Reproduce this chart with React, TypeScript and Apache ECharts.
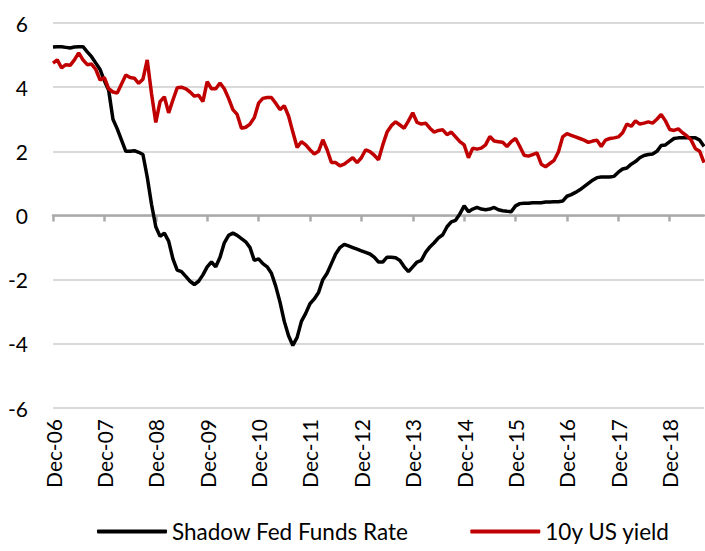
import React, { useEffect, useRef } from "react";
import * as echarts from "echarts";

const MONTHS = ["Jan", "Feb", "Mar", "Apr", "May", "Jun", "Jul", "Aug", "Sep", "Oct", "Nov", "Dec"];
// Monthly categories from Dec-06 to Aug-19
const START_YEAR = 2006;
const START_MONTH = 11; // December
const N_MONTHS = 153;
const categories: string[] = [];
for (let i = 0; i < N_MONTHS; i++) {
  const m = (START_MONTH + i) % 12;
  const y = START_YEAR + Math.floor((START_MONTH + i) / 12);
  categories.push(`${MONTHS[m]}-${String(y % 100).padStart(2, "0")}`);
}

const seriesNames = ["Shadow Fed Funds Rate", "10y US yield"];

const shadowFedFunds = [
  5.25, 5.26, 5.26, 5.24, 5.22, 5.25, 5.26, 5.26, 5.1, 4.95, 4.75, 4.55,
  4.2, 3.9, 3.0, 2.7, 2.35, 2.0, 2.0, 2.02, 1.97, 1.9, 1.2, 0.35,
  -0.35, -0.65, -0.55, -0.8, -1.35, -1.7, -1.75, -1.9, -2.05, -2.15, -2.05, -1.85,
  -1.6, -1.45, -1.6, -1.3, -0.85, -0.62, -0.55, -0.62, -0.72, -0.82, -1.0, -1.4,
  -1.35, -1.5, -1.6, -1.8, -2.2, -2.7, -3.3, -3.75, -4.05, -3.8, -3.3, -3.05,
  -2.75, -2.6, -2.4, -2.0, -1.8, -1.5, -1.2, -1.0, -0.9, -0.95, -1.0, -1.05,
  -1.1, -1.15, -1.2, -1.3, -1.45, -1.45, -1.3, -1.3, -1.32, -1.4, -1.6, -1.75,
  -1.6, -1.45, -1.4, -1.15, -0.98, -0.85, -0.7, -0.6, -0.35, -0.2, -0.15, 0.05,
  0.3, 0.12, 0.2, 0.25, 0.2, 0.18, 0.2, 0.25, 0.18, 0.15, 0.13, 0.12,
  0.3, 0.37, 0.38, 0.38, 0.4, 0.4, 0.4, 0.42, 0.42, 0.43, 0.43, 0.45,
  0.6, 0.65, 0.72, 0.8, 0.9, 1.0, 1.1, 1.18, 1.2, 1.2, 1.2, 1.22,
  1.35, 1.45, 1.48, 1.6, 1.68, 1.8, 1.87, 1.9, 1.92, 2.0, 2.18, 2.2,
  2.3, 2.4, 2.42, 2.42, 2.42, 2.42, 2.42, 2.35, 2.15,
];

const us10yYield = [
  4.75, 4.85, 4.6, 4.7, 4.68, 4.85, 5.07, 4.85, 4.7, 4.72, 4.55, 4.22,
  4.3, 3.95, 3.85, 3.82, 4.1, 4.38, 4.3, 4.28, 4.12, 4.25, 4.85, 3.8,
  2.9, 3.55, 3.7, 3.2, 3.6, 3.98, 4.0, 3.95, 3.85, 3.72, 3.75, 3.55,
  4.17, 3.95, 3.95, 4.13, 3.95, 3.65, 3.3, 3.15, 2.72, 2.75, 2.85, 3.05,
  3.5, 3.65, 3.68, 3.68, 3.5, 3.3, 3.42, 3.1, 2.6, 2.12, 2.3, 2.2,
  2.05, 1.92, 2.0, 2.36, 2.05, 1.65, 1.65, 1.55, 1.6, 1.7, 1.8, 1.65,
  1.8, 2.05, 1.99, 1.88, 1.74, 2.2, 2.6, 2.8, 2.92, 2.82, 2.72, 2.95,
  3.2, 2.9, 2.85, 2.88, 2.72, 2.6, 2.65, 2.67, 2.52, 2.6, 2.45, 2.3,
  2.2, 1.8, 2.1, 2.07, 2.1, 2.2, 2.46, 2.32, 2.3, 2.28, 2.15, 2.3,
  2.4, 2.15, 1.88, 1.85, 1.9, 1.95, 1.6, 1.52, 1.62, 1.72, 1.98, 2.45,
  2.55, 2.5, 2.45, 2.4, 2.35, 2.28, 2.32, 2.35, 2.15, 2.35, 2.4, 2.42,
  2.45, 2.58, 2.85, 2.78, 2.95, 2.85, 2.88, 2.92, 2.88, 3.0, 3.15, 2.95,
  2.68, 2.65, 2.7, 2.58, 2.48, 2.35, 2.08, 2.0, 1.65,
];

const Y_MIN = -6;
const Y_MAX = 6;
const Y_INTERVAL = 2;

const FONT = "Lato";

export default function App() {
  const ref = useRef<HTMLDivElement>(null);

  useEffect(() => {
    document.body.style.margin = "0";
    if (!ref.current) return;
    const chart = echarts.init(ref.current, null, { renderer: "svg" });
    chart.setOption({
      animation: false,
      backgroundColor: "#ffffff",
      textStyle: { fontFamily: FONT },
      grid: { left: 53, right: 1, top: 23, bottom: 143 },
      legend: {
        bottom: 3,
        left: 92,
        itemWidth: 70,
        itemHeight: 4,
        itemGap: 62,
        icon: "roundRect",
        textStyle: { fontFamily: FONT, fontSize: 22.5, color: "#000" },
        data: seriesNames,
      },
      xAxis: [
        {
          type: "category",
          data: categories,
          boundaryGap: false,
          axisLine: { onZero: true, lineStyle: { color: "#aaaaaa", width: 2.5 } },
          axisTick: { show: true, interval: 11, length: 6, lineStyle: { color: "#aaaaaa", width: 2.5 } },
          axisLabel: { show: false },
          splitLine: { show: false },
        },
        {
          type: "category",
          data: categories,
          boundaryGap: false,
          position: "bottom",
          axisLine: { show: false, onZero: false },
          axisTick: { show: false },
          axisLabel: {
            show: true,
            interval: 11,
            rotate: 90,
            margin: 11,
            fontFamily: FONT,
            fontSize: 21,
            color: "#000",
          },
          splitLine: { show: false },
        },
      ],
      yAxis: {
        type: "value",
        min: Y_MIN,
        max: Y_MAX,
        interval: Y_INTERVAL,
        axisLine: { show: false },
        axisTick: { show: false },
        axisLabel: { margin: 25, fontFamily: FONT, fontSize: 21, color: "#000" },
        splitLine: { lineStyle: { color: "#d9d9d9", width: 2 } },
      },
      series: [
        {
          name: seriesNames[0],
          type: "line",
          data: shadowFedFunds,
          xAxisIndex: 0,
          showSymbol: false,
          symbol: "none",
          lineStyle: { color: "#000000", width: 3.5 },
          itemStyle: { color: "#000000" },
        },
        {
          name: seriesNames[1],
          type: "line",
          data: us10yYield,
          xAxisIndex: 0,
          showSymbol: false,
          symbol: "none",
          lineStyle: { color: "#c00000", width: 3.5 },
          itemStyle: { color: "#c00000" },
        },
      ],
    });
    return () => chart.dispose();
  }, []);

  return <div ref={ref} style={{ width: 705, height: 551 }} />;
}
